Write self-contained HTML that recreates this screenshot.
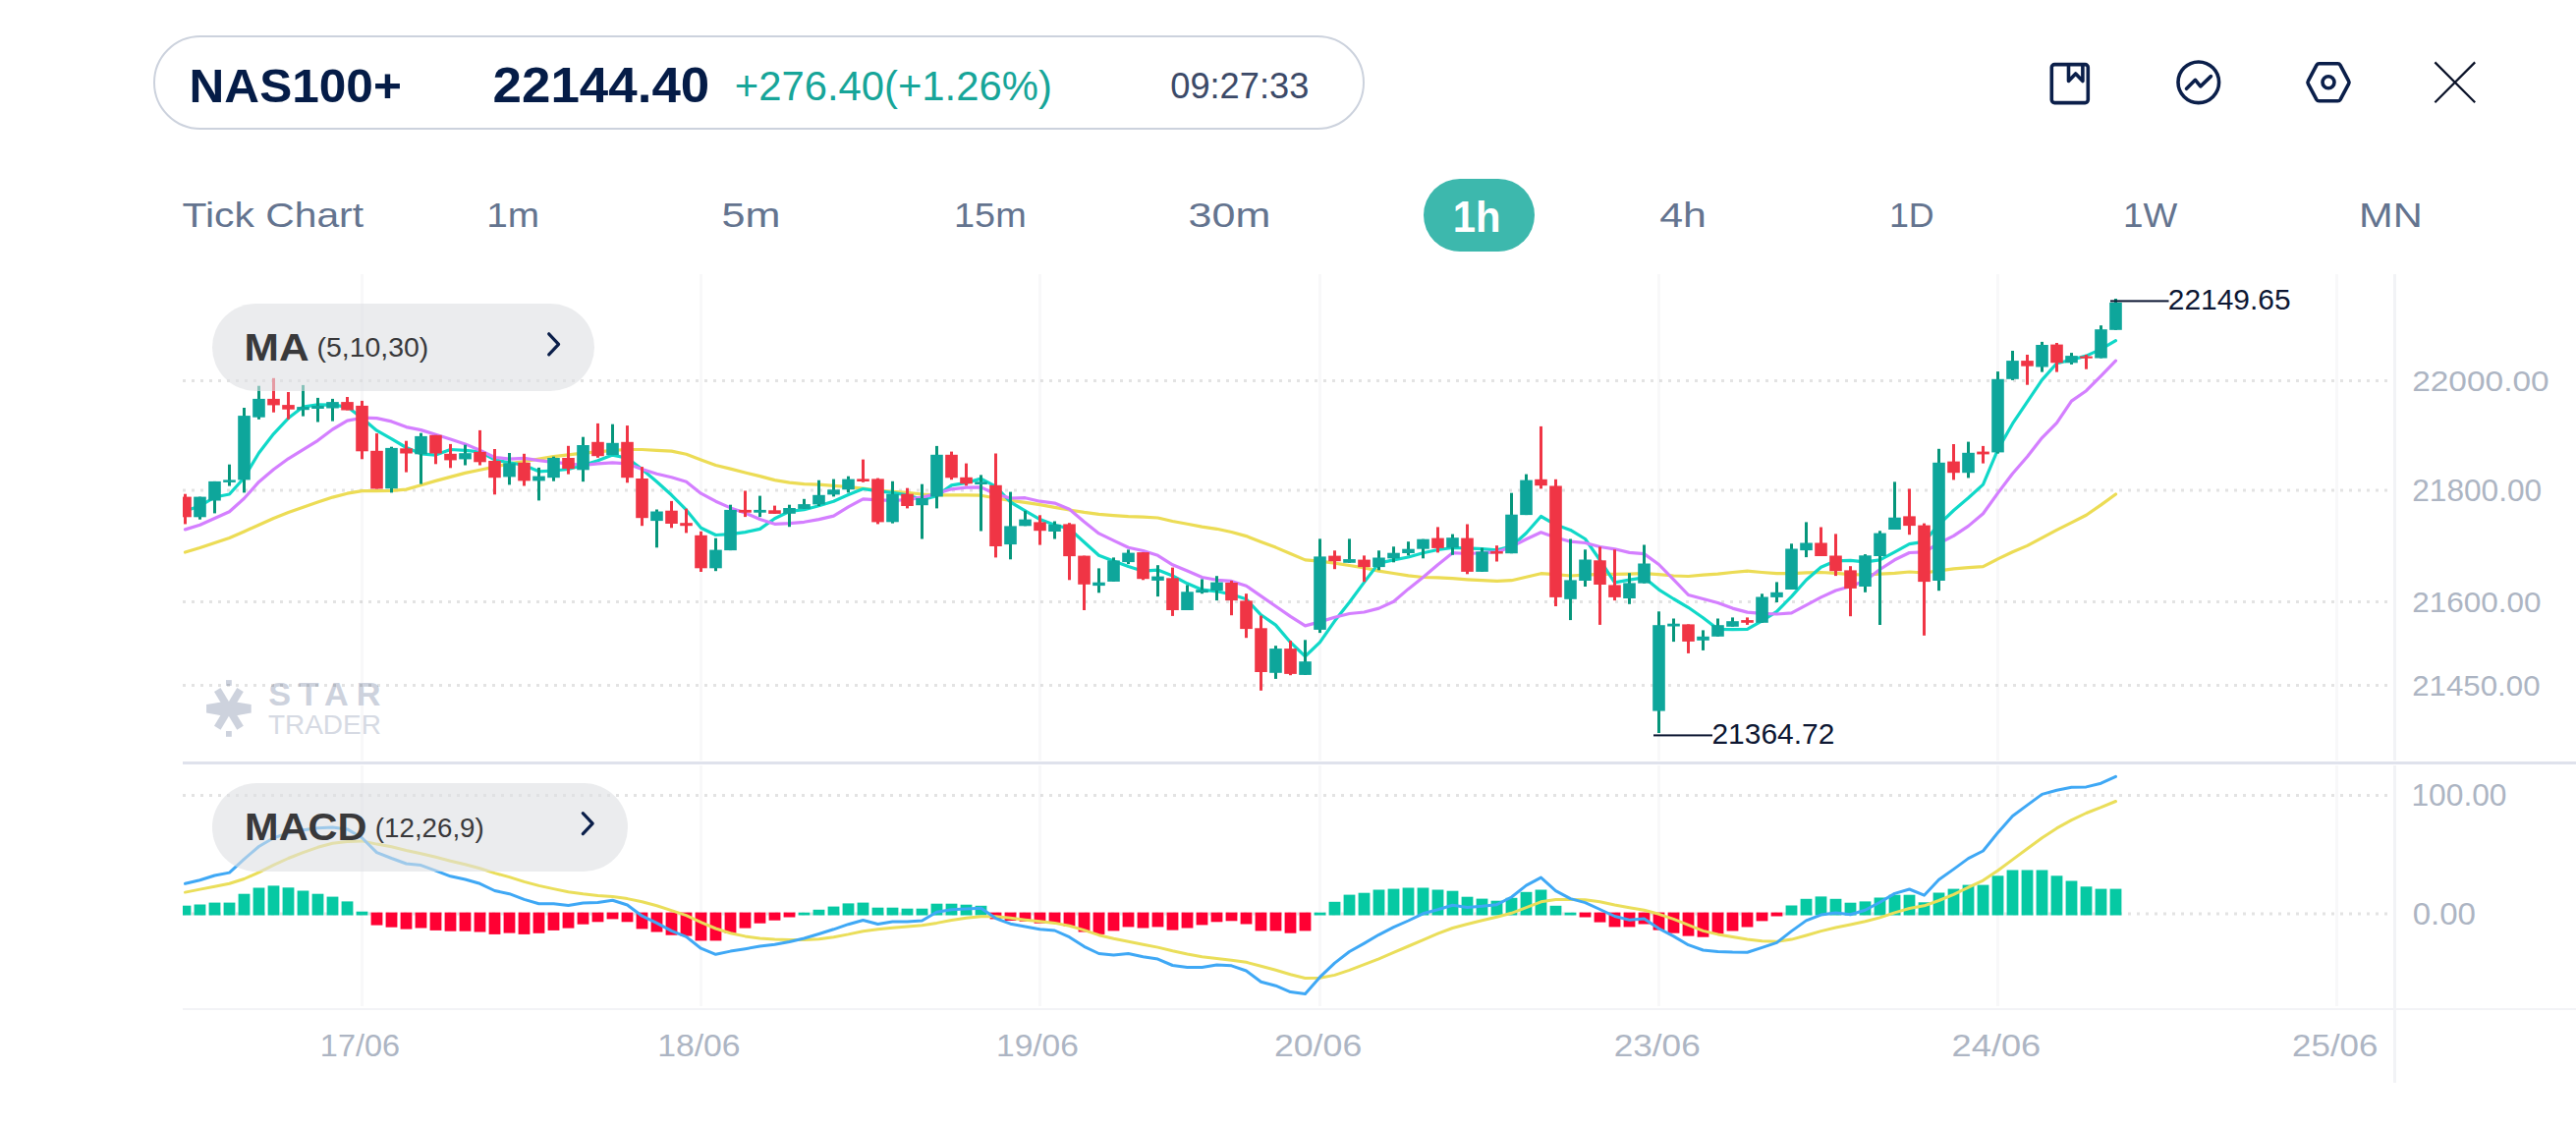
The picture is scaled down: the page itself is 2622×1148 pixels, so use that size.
<!DOCTYPE html>
<html><head><meta charset="utf-8"><title>NAS100+</title>
<style>
html,body{margin:0;padding:0;background:#fff}
body{width:2622px;height:1148px;position:relative;overflow:hidden;font-family:"Liberation Sans", sans-serif;}
.abs{position:absolute;white-space:nowrap;line-height:1}
.hdr{left:156px;top:36px;width:1229px;height:92px;border:2px solid #ccd2dd;border-radius:48px;box-sizing:content-box}
.pill{background:rgba(222,223,227,.6);border-radius:45px;z-index:4}
</style></head><body>
<div class="abs hdr"></div>
<svg class="abs" style="left:2060px;top:50px" width="480" height="70" viewBox="2060 50 480 70" fill="none" stroke="#0b1f4a" stroke-width="3.6" stroke-linecap="round" stroke-linejoin="round">
<rect x="2088.3" y="65.6" width="37" height="39" rx="3"/>
<path d="M2105.5 66.5v16l7.2-7.5 7.2 7.5v-16"/>
<circle cx="2237.8" cy="83.8" r="20.8"/>
<path d="M2225.5 90.3l9-9 5.3 6.6 10.6-10.3"/>
<path d="M2360.5 64.8h19a3 3 0 0 1 2.6 1.5l8.5 16a3 3 0 0 1 0 3l-8.5 16a3 3 0 0 1 -2.6 1.5h-19a3 3 0 0 1 -2.6 -1.5l-8.5 -16a3 3 0 0 1 0 -3l8.5 -16a3 3 0 0 1 2.6 -1.5z"/>
<circle cx="2370" cy="83.8" r="6"/>
<path d="M2478.4 63.4l40.8 40.8M2519.2 63.4l-40.8 40.8" stroke-width="2.2" stroke="#0a1228" stroke-linecap="butt"/>
</svg>
<div class="abs" style="left:1449px;top:182px;width:113px;height:74px;border-radius:37px;background:#3db8ad"></div>
<svg width="2622" height="1148" viewBox="0 0 2622 1148" style="position:absolute;left:0;top:0" font-family='"Liberation Sans", sans-serif'>
<defs><clipPath id="cp"><rect x="186.0" y="270" width="2251.0" height="770"/></clipPath></defs>
<rect x="367.0" y="279" width="3" height="495" fill="#f8f8f9"/>
<rect x="367.0" y="779" width="3" height="245" fill="#f8f8f9"/>
<rect x="712.0" y="279" width="3" height="495" fill="#f8f8f9"/>
<rect x="712.0" y="779" width="3" height="245" fill="#f8f8f9"/>
<rect x="1057.0" y="279" width="3" height="495" fill="#f8f8f9"/>
<rect x="1057.0" y="779" width="3" height="245" fill="#f8f8f9"/>
<rect x="1342.0" y="279" width="3" height="495" fill="#f8f8f9"/>
<rect x="1342.0" y="779" width="3" height="245" fill="#f8f8f9"/>
<rect x="1687.0" y="279" width="3" height="495" fill="#f8f8f9"/>
<rect x="1687.0" y="779" width="3" height="245" fill="#f8f8f9"/>
<rect x="2032.0" y="279" width="3" height="495" fill="#f8f8f9"/>
<rect x="2032.0" y="779" width="3" height="245" fill="#f8f8f9"/>
<rect x="2377.0" y="279" width="3" height="495" fill="#f8f8f9"/>
<rect x="2377.0" y="779" width="3" height="245" fill="#f8f8f9"/>
<rect x="2436" y="279" width="3" height="495" fill="#f2f3f6"/>
<rect x="2436" y="779" width="3" height="323" fill="#f2f3f6"/>
<g fill="#cdd2dd">
<polygon points="210.1,717.0 223.9,714.6999999999999 241.9,714.6999999999999 255.70000000000002,717.0 255.70000000000002,725.5999999999999 241.9,727.9 223.9,727.9 210.1,725.5999999999999"/>
<rect x="229.1" y="698.6999999999999" width="7.6" height="45.2" transform="rotate(31 232.9 721.3)"/>
<rect x="229.1" y="698.6999999999999" width="7.6" height="45.2" transform="rotate(-31 232.9 721.3)"/>
<rect x="230.0" y="692.1" width="5.8" height="5.8"/><rect x="230.0" y="744" width="5.8" height="5.8"/>
</g>
<text transform="translate(273.14 718.10) scale(1.0600 1)" font-size="32.29" font-weight="700" fill="#cdd2dd"  style="letter-spacing:7.43px">STAR</text>
<text transform="translate(272.94 747.10) scale(1.0108 1)" font-size="27.68" font-weight="400" fill="#d6dae3" >TRADER</text>
<line x1="186" y1="387.4" x2="2432" y2="387.4" stroke="#000" stroke-opacity=".108" stroke-width="3" stroke-dasharray="3 6"/>
<line x1="186" y1="499.1" x2="2432" y2="499.1" stroke="#000" stroke-opacity=".108" stroke-width="3" stroke-dasharray="3 6"/>
<line x1="186" y1="612.6" x2="2432" y2="612.6" stroke="#000" stroke-opacity=".108" stroke-width="3" stroke-dasharray="3 6"/>
<line x1="186" y1="697.5" x2="2432" y2="697.5" stroke="#000" stroke-opacity=".108" stroke-width="3" stroke-dasharray="3 6"/>
<line x1="186" y1="809.5" x2="2432" y2="809.5" stroke="#000" stroke-opacity=".108" stroke-width="3" stroke-dasharray="3 6"/>
<line x1="186" y1="930.1" x2="2432" y2="930.1" stroke="#000" stroke-opacity=".108" stroke-width="3" stroke-dasharray="3 6"/>
<rect x="186" y="775" width="2436" height="3" fill="#dfe2ec"/>
<rect x="186" y="1026" width="2436" height="2" fill="#f2f3f6"/>
<g clip-path="url(#cp)">
<polyline points="188.5,562.0 203.5,557.5 218.5,552.5 233.5,547.5 248.5,541.0 263.5,534.2 278.5,527.5 293.5,521.6 308.5,516.2 323.5,511.1 338.5,506.1 353.5,502.2 368.5,499.7 383.5,499.7 398.5,499.3 413.5,498.1 428.5,493.7 443.5,489.4 458.5,485.4 473.5,481.4 488.5,478.3 503.5,475.1 518.5,471.9 533.5,469.5 548.5,467.1 563.5,464.7 578.5,462.8 593.5,461.2 608.5,459.9 623.5,458.3 638.5,457.5 653.5,457.5 668.5,458.3 683.5,459.1 698.5,462.3 713.5,467.9 728.5,473.5 743.5,477.1 758.5,481.0 773.5,484.6 788.5,488.6 803.5,491.2 818.5,492.6 833.5,493.1 848.5,494.3 863.5,495.5 878.5,497.1 893.5,499.1 908.5,500.3 923.5,501.4 938.5,503.0 953.5,503.8 968.5,503.8 983.5,503.8 998.5,504.2 1013.5,507.0 1028.5,509.4 1043.5,511.3 1058.5,513.7 1073.5,516.3 1088.5,519.0 1103.5,521.4 1118.5,523.3 1133.5,524.6 1148.5,525.7 1163.5,526.2 1178.5,527.0 1193.5,530.5 1208.5,533.3 1223.5,536.1 1238.5,538.3 1253.5,541.5 1268.5,545.6 1283.5,551.5 1298.5,557.1 1313.5,563.5 1328.5,569.9 1343.5,571.2 1358.5,573.1 1373.5,575.5 1388.5,577.9 1403.5,581.1 1418.5,583.5 1433.5,585.9 1448.5,587.5 1463.5,587.8 1478.5,588.7 1493.5,589.8 1508.5,590.6 1523.5,591.4 1538.5,590.7 1553.5,587.2 1568.5,583.7 1583.5,584.7 1598.5,586.0 1613.5,585.2 1628.5,584.4 1643.5,584.4 1658.5,584.1 1673.5,583.6 1688.5,584.7 1703.5,586.0 1718.5,586.5 1733.5,585.2 1748.5,584.1 1763.5,582.5 1778.5,581.2 1793.5,582.5 1808.5,583.6 1823.5,583.6 1838.5,582.8 1853.5,582.5 1868.5,583.3 1883.5,584.6 1898.5,585.0 1913.5,584.2 1928.5,583.4 1943.5,582.0 1958.5,583.0 1973.5,580.9 1988.5,578.8 2003.5,577.7 2018.5,576.6 2033.5,568.9 2048.5,561.8 2063.5,555.4 2078.5,547.4 2093.5,539.4 2108.5,531.9 2123.5,524.3 2138.5,513.9 2153.5,503.0" fill="none" stroke="#ecdc55" stroke-width="3.2" stroke-linejoin="round" stroke-linecap="round"/>
<polyline points="188.5,519.9 203.5,515.0 218.5,506.0 233.5,503.0 248.5,486.2 263.5,461.0 278.5,441.6 293.5,425.6 308.5,414.1 323.5,411.8 338.5,412.1 353.5,414.1 368.5,425.6 383.5,438.2 398.5,446.6 413.5,455.5 428.5,461.8 443.5,463.1 458.5,457.5 473.5,458.3 488.5,459.9 503.5,467.9 518.5,470.8 533.5,473.5 548.5,479.8 563.5,479.0 578.5,477.5 593.5,473.5 608.5,468.7 623.5,463.1 638.5,466.3 653.5,477.5 668.5,490.2 683.5,503.8 698.5,518.9 713.5,537.3 728.5,544.5 743.5,543.7 758.5,541.6 773.5,538.4 788.5,527.7 803.5,520.5 818.5,518.7 833.5,514.7 848.5,510.2 863.5,503.5 878.5,497.5 893.5,499.8 908.5,501.4 923.5,503.8 938.5,508.6 953.5,504.6 968.5,493.9 983.5,491.4 998.5,487.1 1013.5,495.1 1028.5,511.0 1043.5,519.8 1058.5,528.6 1073.5,534.2 1088.5,538.1 1103.5,551.7 1118.5,565.3 1133.5,570.9 1148.5,576.5 1163.5,581.2 1178.5,580.1 1193.5,586.0 1208.5,593.8 1223.5,600.2 1238.5,601.8 1253.5,605.0 1268.5,609.8 1283.5,625.8 1298.5,636.1 1313.5,653.7 1328.5,668.0 1343.5,653.7 1358.5,632.1 1373.5,613.0 1388.5,592.6 1403.5,573.1 1418.5,569.9 1433.5,567.0 1448.5,562.7 1463.5,559.5 1478.5,557.5 1493.5,557.9 1508.5,558.7 1523.5,559.8 1538.5,556.0 1553.5,542.5 1568.5,525.5 1583.5,534.1 1598.5,539.4 1613.5,548.5 1628.5,570.0 1643.5,592.8 1658.5,590.2 1673.5,587.8 1688.5,600.1 1703.5,609.5 1718.5,618.3 1733.5,628.7 1748.5,640.3 1763.5,640.6 1778.5,640.3 1793.5,631.9 1808.5,622.3 1823.5,607.1 1838.5,590.2 1853.5,577.2 1868.5,570.8 1883.5,570.4 1898.5,571.8 1913.5,569.8 1928.5,561.9 1943.5,553.6 1958.5,551.4 1973.5,533.8 1988.5,519.5 2003.5,506.7 2018.5,493.1 2033.5,457.6 2048.5,431.2 2063.5,408.9 2078.5,386.6 2093.5,369.8 2108.5,366.3 2123.5,362.1 2138.5,355.4 2153.5,346.7" fill="none" stroke="#10d8c8" stroke-width="3.2" stroke-linejoin="round" stroke-linecap="round"/>
<polyline points="188.5,538.9 203.5,534.2 218.5,527.5 233.5,520.7 248.5,507.3 263.5,490.4 278.5,477.8 293.5,466.8 308.5,457.6 323.5,448.3 338.5,437.0 353.5,428.1 368.5,425.2 383.5,425.6 398.5,428.9 413.5,434.6 428.5,437.6 443.5,442.3 458.5,447.1 473.5,451.9 488.5,458.3 503.5,465.5 518.5,467.1 533.5,466.3 548.5,468.7 563.5,470.3 578.5,471.9 593.5,473.5 608.5,471.9 623.5,470.8 638.5,471.9 653.5,477.5 668.5,482.2 683.5,485.8 698.5,490.2 713.5,502.2 728.5,510.2 743.5,516.9 758.5,522.1 773.5,528.5 788.5,533.3 803.5,532.6 818.5,531.3 833.5,528.6 848.5,525.1 863.5,515.8 878.5,507.8 893.5,508.9 908.5,509.4 923.5,508.6 938.5,506.2 953.5,502.2 968.5,497.8 983.5,496.2 998.5,495.9 1013.5,503.0 1028.5,507.0 1043.5,506.7 1058.5,510.2 1073.5,512.1 1088.5,518.2 1103.5,531.0 1118.5,542.9 1133.5,550.1 1148.5,557.3 1163.5,560.5 1178.5,565.3 1193.5,574.8 1208.5,581.1 1223.5,587.5 1238.5,590.3 1253.5,591.4 1268.5,596.2 1283.5,606.6 1298.5,617.0 1313.5,627.4 1328.5,636.9 1343.5,632.9 1358.5,628.2 1373.5,624.5 1388.5,623.0 1403.5,619.1 1418.5,612.2 1433.5,599.4 1448.5,587.5 1463.5,574.7 1478.5,562.7 1493.5,563.5 1508.5,562.7 1523.5,561.9 1538.5,556.4 1553.5,548.8 1568.5,541.8 1583.5,547.0 1598.5,551.2 1613.5,552.5 1628.5,556.5 1643.5,558.8 1658.5,562.4 1673.5,563.6 1688.5,574.5 1703.5,589.8 1718.5,605.5 1733.5,609.5 1748.5,613.5 1763.5,619.1 1778.5,623.1 1793.5,624.4 1808.5,625.0 1823.5,623.9 1838.5,615.9 1853.5,607.9 1868.5,601.0 1883.5,596.8 1898.5,591.0 1913.5,579.5 1928.5,569.8 1943.5,562.5 1958.5,561.8 1973.5,553.0 1988.5,545.3 2003.5,535.4 2018.5,522.7 2033.5,501.9 2048.5,482.0 2063.5,464.8 2078.5,445.6 2093.5,430.4 2108.5,408.1 2123.5,397.7 2138.5,382.6 2153.5,367.1" fill="none" stroke="#d47fff" stroke-width="3.2" stroke-linejoin="round" stroke-linecap="round"/>
<rect x="187.0" y="502.7" width="3.0" height="30.7" fill="#f03545"/>
<rect x="182.2" y="505.6" width="12.6" height="20.7" fill="#f03545"/>
<rect x="202.0" y="505.6" width="3.0" height="23.1" fill="#06967b"/>
<rect x="197.2" y="505.6" width="12.6" height="20.7" fill="#0ea69b"/>
<rect x="217.0" y="489.9" width="3.0" height="32.5" fill="#06967b"/>
<rect x="212.2" y="489.9" width="12.6" height="19.6" fill="#0ea69b"/>
<rect x="232.0" y="472.7" width="3.0" height="21.9" fill="#06967b"/>
<rect x="227.2" y="488.4" width="12.6" height="2.5" fill="#0ea69b"/>
<rect x="247.0" y="415.0" width="3.0" height="86.4" fill="#06967b"/>
<rect x="242.2" y="423.1" width="12.6" height="65.3" fill="#0ea69b"/>
<rect x="262.0" y="392.7" width="3.0" height="34.1" fill="#06967b"/>
<rect x="257.2" y="405.9" width="12.6" height="18.8" fill="#0ea69b"/>
<rect x="277.0" y="384.8" width="3.0" height="34.9" fill="#f03545"/>
<rect x="272.2" y="405.9" width="12.6" height="6.5" fill="#f03545"/>
<rect x="292.0" y="399.0" width="3.0" height="27.8" fill="#f03545"/>
<rect x="287.2" y="412.1" width="12.6" height="4.6" fill="#f03545"/>
<rect x="307.0" y="391.9" width="3.0" height="31.7" fill="#06967b"/>
<rect x="302.2" y="414.1" width="12.6" height="3.1" fill="#0ea69b"/>
<rect x="322.0" y="404.9" width="3.0" height="24.6" fill="#06967b"/>
<rect x="317.2" y="412.9" width="12.6" height="3.1" fill="#0ea69b"/>
<rect x="337.0" y="405.9" width="3.0" height="22.7" fill="#06967b"/>
<rect x="332.2" y="409.1" width="12.6" height="6.4" fill="#0ea69b"/>
<rect x="352.0" y="404.0" width="3.0" height="13.5" fill="#f03545"/>
<rect x="347.2" y="409.1" width="12.6" height="8.4" fill="#f03545"/>
<rect x="367.0" y="407.9" width="3.0" height="59.4" fill="#f03545"/>
<rect x="362.2" y="412.9" width="12.6" height="46.4" fill="#f03545"/>
<rect x="382.0" y="441.1" width="3.0" height="56.4" fill="#f03545"/>
<rect x="377.2" y="458.8" width="12.6" height="38.7" fill="#f03545"/>
<rect x="397.0" y="454.7" width="3.0" height="46.7" fill="#06967b"/>
<rect x="392.2" y="455.9" width="12.6" height="41.3" fill="#0ea69b"/>
<rect x="412.0" y="448.7" width="3.0" height="31.9" fill="#f03545"/>
<rect x="407.2" y="456.3" width="12.6" height="5.2" fill="#f03545"/>
<rect x="427.0" y="440.7" width="3.0" height="51.9" fill="#06967b"/>
<rect x="422.2" y="443.9" width="12.6" height="18.4" fill="#0ea69b"/>
<rect x="442.0" y="442.8" width="3.0" height="29.5" fill="#f03545"/>
<rect x="437.2" y="442.8" width="12.6" height="18.7" fill="#f03545"/>
<rect x="457.0" y="451.9" width="3.0" height="24.4" fill="#f03545"/>
<rect x="452.2" y="461.8" width="12.6" height="6.6" fill="#f03545"/>
<rect x="472.0" y="452.7" width="3.0" height="20.8" fill="#06967b"/>
<rect x="467.2" y="461.2" width="12.6" height="6.2" fill="#0ea69b"/>
<rect x="487.0" y="437.9" width="3.0" height="35.6" fill="#f03545"/>
<rect x="482.2" y="459.9" width="12.6" height="10.4" fill="#f03545"/>
<rect x="502.0" y="457.0" width="3.0" height="46.3" fill="#f03545"/>
<rect x="497.2" y="469.0" width="12.6" height="17.2" fill="#f03545"/>
<rect x="517.0" y="461.0" width="3.0" height="32.4" fill="#06967b"/>
<rect x="512.2" y="471.4" width="12.6" height="14.0" fill="#0ea69b"/>
<rect x="532.0" y="461.8" width="3.0" height="32.7" fill="#f03545"/>
<rect x="527.2" y="470.8" width="12.6" height="18.6" fill="#f03545"/>
<rect x="547.0" y="475.9" width="3.0" height="33.5" fill="#06967b"/>
<rect x="542.2" y="484.6" width="12.6" height="4.8" fill="#0ea69b"/>
<rect x="562.0" y="464.7" width="3.0" height="25.0" fill="#06967b"/>
<rect x="557.2" y="466.0" width="12.6" height="20.2" fill="#0ea69b"/>
<rect x="577.0" y="453.8" width="3.0" height="28.8" fill="#f03545"/>
<rect x="572.2" y="466.0" width="12.6" height="11.1" fill="#f03545"/>
<rect x="592.0" y="444.7" width="3.0" height="45.5" fill="#06967b"/>
<rect x="587.2" y="453.0" width="12.6" height="25.3" fill="#0ea69b"/>
<rect x="607.0" y="430.9" width="3.0" height="34.9" fill="#f03545"/>
<rect x="602.2" y="449.8" width="12.6" height="14.4" fill="#f03545"/>
<rect x="622.0" y="431.7" width="3.0" height="31.4" fill="#06967b"/>
<rect x="617.2" y="450.8" width="12.6" height="12.3" fill="#0ea69b"/>
<rect x="637.0" y="433.1" width="3.0" height="58.2" fill="#f03545"/>
<rect x="632.2" y="449.8" width="12.6" height="36.4" fill="#f03545"/>
<rect x="652.0" y="475.1" width="3.0" height="60.1" fill="#f03545"/>
<rect x="647.2" y="487.0" width="12.6" height="40.2" fill="#f03545"/>
<rect x="667.0" y="518.5" width="3.0" height="38.8" fill="#06967b"/>
<rect x="662.2" y="520.5" width="12.6" height="9.6" fill="#0ea69b"/>
<rect x="682.0" y="509.9" width="3.0" height="27.4" fill="#f03545"/>
<rect x="677.2" y="519.7" width="12.6" height="13.3" fill="#f03545"/>
<rect x="697.0" y="517.7" width="3.0" height="24.7" fill="#f03545"/>
<rect x="692.2" y="532.2" width="12.6" height="3.0" fill="#f03545"/>
<rect x="712.0" y="540.8" width="3.0" height="41.2" fill="#f03545"/>
<rect x="707.2" y="544.8" width="12.6" height="33.5" fill="#f03545"/>
<rect x="727.0" y="547.7" width="3.0" height="33.5" fill="#06967b"/>
<rect x="722.2" y="559.6" width="12.6" height="18.7" fill="#0ea69b"/>
<rect x="742.0" y="513.7" width="3.0" height="46.4" fill="#06967b"/>
<rect x="737.2" y="518.9" width="12.6" height="41.2" fill="#0ea69b"/>
<rect x="757.0" y="499.5" width="3.0" height="26.6" fill="#f03545"/>
<rect x="752.2" y="518.9" width="12.6" height="2.8" fill="#f03545"/>
<rect x="772.0" y="504.6" width="3.0" height="21.5" fill="#06967b"/>
<rect x="767.2" y="518.9" width="12.6" height="2.8" fill="#0ea69b"/>
<rect x="787.0" y="514.6" width="3.0" height="8.3" fill="#f03545"/>
<rect x="782.2" y="519.3" width="12.6" height="3.6" fill="#f03545"/>
<rect x="802.0" y="513.7" width="3.0" height="22.5" fill="#06967b"/>
<rect x="797.2" y="517.0" width="12.6" height="5.8" fill="#0ea69b"/>
<rect x="817.0" y="507.8" width="3.0" height="10.1" fill="#06967b"/>
<rect x="812.2" y="513.1" width="12.6" height="4.8" fill="#0ea69b"/>
<rect x="832.0" y="488.7" width="3.0" height="26.3" fill="#06967b"/>
<rect x="827.2" y="503.8" width="12.6" height="9.6" fill="#0ea69b"/>
<rect x="847.0" y="487.6" width="3.0" height="17.8" fill="#06967b"/>
<rect x="842.2" y="498.3" width="12.6" height="5.1" fill="#0ea69b"/>
<rect x="862.0" y="484.7" width="3.0" height="16.7" fill="#06967b"/>
<rect x="857.2" y="487.6" width="12.6" height="10.7" fill="#0ea69b"/>
<rect x="877.0" y="467.6" width="3.0" height="23.2" fill="#f03545"/>
<rect x="872.2" y="487.4" width="12.6" height="2.6" fill="#f03545"/>
<rect x="892.0" y="486.6" width="3.0" height="46.8" fill="#f03545"/>
<rect x="887.2" y="487.4" width="12.6" height="44.0" fill="#f03545"/>
<rect x="907.0" y="489.8" width="3.0" height="42.8" fill="#06967b"/>
<rect x="902.2" y="502.7" width="12.6" height="28.6" fill="#0ea69b"/>
<rect x="922.0" y="496.7" width="3.0" height="20.7" fill="#f03545"/>
<rect x="917.2" y="502.7" width="12.6" height="12.3" fill="#f03545"/>
<rect x="937.0" y="492.7" width="3.0" height="55.8" fill="#06967b"/>
<rect x="932.2" y="507.0" width="12.6" height="7.2" fill="#0ea69b"/>
<rect x="952.0" y="453.9" width="3.0" height="63.5" fill="#06967b"/>
<rect x="947.2" y="462.8" width="12.6" height="42.6" fill="#0ea69b"/>
<rect x="967.0" y="459.6" width="3.0" height="28.6" fill="#f03545"/>
<rect x="962.2" y="462.8" width="12.6" height="23.5" fill="#f03545"/>
<rect x="982.0" y="471.6" width="3.0" height="22.7" fill="#f03545"/>
<rect x="977.2" y="485.8" width="12.6" height="6.5" fill="#f03545"/>
<rect x="997.0" y="483.4" width="3.0" height="57.1" fill="#06967b"/>
<rect x="992.2" y="490.3" width="12.6" height="2.7" fill="#0ea69b"/>
<rect x="1012.0" y="461.5" width="3.0" height="105.9" fill="#f03545"/>
<rect x="1007.2" y="493.8" width="12.6" height="62.2" fill="#f03545"/>
<rect x="1027.0" y="500.6" width="3.0" height="68.7" fill="#06967b"/>
<rect x="1022.2" y="535.4" width="12.6" height="18.7" fill="#0ea69b"/>
<rect x="1042.0" y="519.8" width="3.0" height="15.5" fill="#06967b"/>
<rect x="1037.2" y="528.6" width="12.6" height="6.7" fill="#0ea69b"/>
<rect x="1057.0" y="524.3" width="3.0" height="30.3" fill="#f03545"/>
<rect x="1052.2" y="531.4" width="12.6" height="8.8" fill="#f03545"/>
<rect x="1072.0" y="530.5" width="3.0" height="18.0" fill="#06967b"/>
<rect x="1067.2" y="533.8" width="12.6" height="7.2" fill="#0ea69b"/>
<rect x="1087.0" y="532.2" width="3.0" height="58.1" fill="#f03545"/>
<rect x="1082.2" y="533.4" width="12.6" height="32.7" fill="#f03545"/>
<rect x="1102.0" y="565.6" width="3.0" height="55.4" fill="#f03545"/>
<rect x="1097.2" y="565.6" width="12.6" height="29.2" fill="#f03545"/>
<rect x="1117.0" y="578.4" width="3.0" height="24.9" fill="#06967b"/>
<rect x="1112.2" y="592.7" width="12.6" height="3.4" fill="#0ea69b"/>
<rect x="1132.0" y="567.4" width="3.0" height="24.5" fill="#06967b"/>
<rect x="1127.2" y="570.4" width="12.6" height="21.5" fill="#0ea69b"/>
<rect x="1147.0" y="559.4" width="3.0" height="14.7" fill="#06967b"/>
<rect x="1142.2" y="562.6" width="12.6" height="9.5" fill="#0ea69b"/>
<rect x="1162.0" y="562.1" width="3.0" height="28.2" fill="#f03545"/>
<rect x="1157.2" y="562.1" width="12.6" height="27.1" fill="#f03545"/>
<rect x="1177.0" y="575.2" width="3.0" height="31.9" fill="#06967b"/>
<rect x="1172.2" y="586.6" width="12.6" height="4.3" fill="#0ea69b"/>
<rect x="1192.0" y="577.6" width="3.0" height="49.3" fill="#f03545"/>
<rect x="1187.2" y="588.3" width="12.6" height="32.7" fill="#f03545"/>
<rect x="1207.0" y="595.4" width="3.0" height="25.6" fill="#06967b"/>
<rect x="1202.2" y="602.3" width="12.6" height="18.7" fill="#0ea69b"/>
<rect x="1222.0" y="589.4" width="3.0" height="14.8" fill="#06967b"/>
<rect x="1217.2" y="600.2" width="12.6" height="2.9" fill="#0ea69b"/>
<rect x="1237.0" y="586.2" width="3.0" height="24.9" fill="#06967b"/>
<rect x="1232.2" y="592.6" width="12.6" height="8.4" fill="#0ea69b"/>
<rect x="1252.0" y="591.1" width="3.0" height="35.1" fill="#f03545"/>
<rect x="1247.2" y="593.0" width="12.6" height="18.1" fill="#f03545"/>
<rect x="1267.0" y="604.2" width="3.0" height="45.0" fill="#f03545"/>
<rect x="1262.2" y="611.4" width="12.6" height="28.7" fill="#f03545"/>
<rect x="1282.0" y="626.6" width="3.0" height="76.2" fill="#f03545"/>
<rect x="1277.2" y="639.3" width="12.6" height="44.7" fill="#f03545"/>
<rect x="1297.0" y="657.2" width="3.0" height="33.7" fill="#06967b"/>
<rect x="1292.2" y="660.1" width="12.6" height="24.7" fill="#0ea69b"/>
<rect x="1312.0" y="652.1" width="3.0" height="35.1" fill="#f03545"/>
<rect x="1307.2" y="660.1" width="12.6" height="25.8" fill="#f03545"/>
<rect x="1327.0" y="651.3" width="3.0" height="35.6" fill="#06967b"/>
<rect x="1322.2" y="673.2" width="12.6" height="13.7" fill="#0ea69b"/>
<rect x="1342.0" y="548.4" width="3.0" height="95.7" fill="#06967b"/>
<rect x="1337.2" y="566.4" width="12.6" height="74.5" fill="#0ea69b"/>
<rect x="1357.0" y="560.3" width="3.0" height="18.9" fill="#f03545"/>
<rect x="1352.2" y="565.6" width="12.6" height="5.6" fill="#f03545"/>
<rect x="1372.0" y="548.4" width="3.0" height="24.4" fill="#06967b"/>
<rect x="1367.2" y="569.1" width="12.6" height="3.7" fill="#0ea69b"/>
<rect x="1387.0" y="565.4" width="3.0" height="26.8" fill="#f03545"/>
<rect x="1382.2" y="569.6" width="12.6" height="7.5" fill="#f03545"/>
<rect x="1402.0" y="560.3" width="3.0" height="20.0" fill="#06967b"/>
<rect x="1397.2" y="567.5" width="12.6" height="9.6" fill="#0ea69b"/>
<rect x="1417.0" y="556.3" width="3.0" height="16.0" fill="#06967b"/>
<rect x="1412.2" y="562.7" width="12.6" height="5.6" fill="#0ea69b"/>
<rect x="1432.0" y="551.2" width="3.0" height="14.2" fill="#06967b"/>
<rect x="1427.2" y="558.7" width="12.6" height="4.3" fill="#0ea69b"/>
<rect x="1447.0" y="548.7" width="3.0" height="19.6" fill="#06967b"/>
<rect x="1442.2" y="548.7" width="12.6" height="10.0" fill="#0ea69b"/>
<rect x="1462.0" y="536.4" width="3.0" height="26.0" fill="#f03545"/>
<rect x="1457.2" y="547.6" width="12.6" height="10.3" fill="#f03545"/>
<rect x="1477.0" y="543.6" width="3.0" height="21.2" fill="#06967b"/>
<rect x="1472.2" y="547.2" width="12.6" height="10.3" fill="#0ea69b"/>
<rect x="1492.0" y="533.5" width="3.0" height="50.8" fill="#f03545"/>
<rect x="1487.2" y="547.6" width="12.6" height="34.3" fill="#f03545"/>
<rect x="1507.0" y="557.6" width="3.0" height="24.3" fill="#06967b"/>
<rect x="1502.2" y="561.4" width="12.6" height="20.5" fill="#0ea69b"/>
<rect x="1522.0" y="555.2" width="3.0" height="16.3" fill="#f03545"/>
<rect x="1517.2" y="561.1" width="12.6" height="2.4" fill="#f03545"/>
<rect x="1537.0" y="501.7" width="3.0" height="61.5" fill="#06967b"/>
<rect x="1532.2" y="523.7" width="12.6" height="39.5" fill="#0ea69b"/>
<rect x="1552.0" y="482.6" width="3.0" height="41.5" fill="#06967b"/>
<rect x="1547.2" y="488.6" width="12.6" height="35.5" fill="#0ea69b"/>
<rect x="1567.0" y="433.9" width="3.0" height="63.5" fill="#f03545"/>
<rect x="1562.2" y="487.8" width="12.6" height="6.4" fill="#f03545"/>
<rect x="1582.0" y="487.8" width="3.0" height="129.2" fill="#f03545"/>
<rect x="1577.2" y="494.5" width="12.6" height="113.4" fill="#f03545"/>
<rect x="1597.0" y="548.5" width="3.0" height="82.6" fill="#06967b"/>
<rect x="1592.2" y="590.4" width="12.6" height="19.4" fill="#0ea69b"/>
<rect x="1612.0" y="559.3" width="3.0" height="37.7" fill="#06967b"/>
<rect x="1607.2" y="569.5" width="12.6" height="21.5" fill="#0ea69b"/>
<rect x="1627.0" y="556.5" width="3.0" height="79.4" fill="#f03545"/>
<rect x="1622.2" y="570.3" width="12.6" height="24.7" fill="#f03545"/>
<rect x="1642.0" y="559.3" width="3.0" height="51.8" fill="#f03545"/>
<rect x="1637.2" y="595.4" width="12.6" height="12.5" fill="#f03545"/>
<rect x="1657.0" y="583.2" width="3.0" height="31.6" fill="#06967b"/>
<rect x="1652.2" y="593.4" width="12.6" height="15.6" fill="#0ea69b"/>
<rect x="1672.0" y="554.5" width="3.0" height="39.1" fill="#06967b"/>
<rect x="1667.2" y="573.5" width="12.6" height="20.1" fill="#0ea69b"/>
<rect x="1687.0" y="622.3" width="3.0" height="123.7" fill="#06967b"/>
<rect x="1682.2" y="636.2" width="12.6" height="87.4" fill="#0ea69b"/>
<rect x="1702.0" y="629.5" width="3.0" height="23.6" fill="#06967b"/>
<rect x="1697.2" y="634.7" width="12.6" height="2.8" fill="#0ea69b"/>
<rect x="1717.0" y="635.4" width="3.0" height="29.5" fill="#f03545"/>
<rect x="1712.2" y="635.4" width="12.6" height="17.5" fill="#f03545"/>
<rect x="1732.0" y="641.4" width="3.0" height="20.5" fill="#06967b"/>
<rect x="1727.2" y="647.8" width="12.6" height="4.0" fill="#0ea69b"/>
<rect x="1747.0" y="629.5" width="3.0" height="18.3" fill="#06967b"/>
<rect x="1742.2" y="636.2" width="12.6" height="11.6" fill="#0ea69b"/>
<rect x="1762.0" y="628.4" width="3.0" height="9.4" fill="#06967b"/>
<rect x="1757.2" y="632.2" width="12.6" height="5.6" fill="#0ea69b"/>
<rect x="1777.0" y="628.4" width="3.0" height="7.5" fill="#f03545"/>
<rect x="1772.2" y="631.1" width="12.6" height="2.7" fill="#f03545"/>
<rect x="1792.0" y="604.3" width="3.0" height="29.5" fill="#06967b"/>
<rect x="1787.2" y="607.5" width="12.6" height="26.3" fill="#0ea69b"/>
<rect x="1807.0" y="592.4" width="3.0" height="20.6" fill="#06967b"/>
<rect x="1802.2" y="602.8" width="12.6" height="5.1" fill="#0ea69b"/>
<rect x="1822.0" y="553.3" width="3.0" height="46.7" fill="#06967b"/>
<rect x="1817.2" y="558.5" width="12.6" height="41.5" fill="#0ea69b"/>
<rect x="1837.0" y="531.4" width="3.0" height="35.7" fill="#06967b"/>
<rect x="1832.2" y="552.5" width="12.6" height="7.6" fill="#0ea69b"/>
<rect x="1852.0" y="536.5" width="3.0" height="29.5" fill="#f03545"/>
<rect x="1847.2" y="552.5" width="12.6" height="13.5" fill="#f03545"/>
<rect x="1867.0" y="543.4" width="3.0" height="42.7" fill="#f03545"/>
<rect x="1862.2" y="565.5" width="12.6" height="15.7" fill="#f03545"/>
<rect x="1882.0" y="576.2" width="3.0" height="51.0" fill="#f03545"/>
<rect x="1877.2" y="580.4" width="12.6" height="18.5" fill="#f03545"/>
<rect x="1897.0" y="564.1" width="3.0" height="38.7" fill="#06967b"/>
<rect x="1892.2" y="565.3" width="12.6" height="31.7" fill="#0ea69b"/>
<rect x="1912.0" y="540.3" width="3.0" height="95.7" fill="#06967b"/>
<rect x="1907.2" y="542.6" width="12.6" height="23.4" fill="#0ea69b"/>
<rect x="1927.0" y="490.4" width="3.0" height="48.6" fill="#06967b"/>
<rect x="1922.2" y="526.7" width="12.6" height="12.3" fill="#0ea69b"/>
<rect x="1942.0" y="497.5" width="3.0" height="46.7" fill="#f03545"/>
<rect x="1937.2" y="525.4" width="12.6" height="9.7" fill="#f03545"/>
<rect x="1957.0" y="532.6" width="3.0" height="114.2" fill="#f03545"/>
<rect x="1952.2" y="534.6" width="12.6" height="57.5" fill="#f03545"/>
<rect x="1972.0" y="456.8" width="3.0" height="144.4" fill="#06967b"/>
<rect x="1967.2" y="470.8" width="12.6" height="120.2" fill="#0ea69b"/>
<rect x="1987.0" y="452.0" width="3.0" height="36.4" fill="#f03545"/>
<rect x="1982.2" y="469.6" width="12.6" height="11.6" fill="#f03545"/>
<rect x="2002.0" y="449.6" width="3.0" height="36.8" fill="#06967b"/>
<rect x="1997.2" y="460.8" width="12.6" height="20.4" fill="#0ea69b"/>
<rect x="2017.0" y="453.9" width="3.0" height="17.7" fill="#f03545"/>
<rect x="2012.2" y="459.6" width="12.6" height="2.8" fill="#f03545"/>
<rect x="2032.0" y="378.1" width="3.0" height="83.5" fill="#06967b"/>
<rect x="2027.2" y="385.8" width="12.6" height="74.6" fill="#0ea69b"/>
<rect x="2047.0" y="357.0" width="3.0" height="29.9" fill="#06967b"/>
<rect x="2042.2" y="367.1" width="12.6" height="18.7" fill="#0ea69b"/>
<rect x="2062.0" y="361.0" width="3.0" height="30.7" fill="#f03545"/>
<rect x="2057.2" y="367.1" width="12.6" height="5.6" fill="#f03545"/>
<rect x="2077.0" y="347.9" width="3.0" height="30.7" fill="#06967b"/>
<rect x="2072.2" y="351.0" width="12.6" height="22.5" fill="#0ea69b"/>
<rect x="2092.0" y="349.0" width="3.0" height="29.6" fill="#f03545"/>
<rect x="2087.2" y="350.6" width="12.6" height="18.7" fill="#f03545"/>
<rect x="2107.0" y="359.1" width="3.0" height="11.8" fill="#06967b"/>
<rect x="2102.2" y="362.1" width="12.6" height="7.2" fill="#0ea69b"/>
<rect x="2122.0" y="361.0" width="3.0" height="14.7" fill="#f03545"/>
<rect x="2117.2" y="362.6" width="12.6" height="2.1" fill="#f03545"/>
<rect x="2137.0" y="331.2" width="3.0" height="33.3" fill="#06967b"/>
<rect x="2132.2" y="335.2" width="12.6" height="29.3" fill="#0ea69b"/>
<rect x="2152.0" y="304.0" width="3.0" height="31.8" fill="#06967b"/>
<rect x="2147.2" y="307.9" width="12.6" height="27.9" fill="#0ea69b"/>
<rect x="182.6" y="921.7" width="11.8" height="9.8" fill="#06c9a3"/>
<rect x="197.6" y="920.5" width="11.8" height="11.0" fill="#06c9a3"/>
<rect x="212.6" y="918.6" width="11.8" height="12.9" fill="#06c9a3"/>
<rect x="227.6" y="918.6" width="11.8" height="12.9" fill="#06c9a3"/>
<rect x="242.6" y="909.7" width="11.8" height="21.8" fill="#06c9a3"/>
<rect x="257.6" y="903.5" width="11.8" height="28.0" fill="#06c9a3"/>
<rect x="272.6" y="901.4" width="11.8" height="30.1" fill="#06c9a3"/>
<rect x="287.6" y="903.3" width="11.8" height="28.2" fill="#06c9a3"/>
<rect x="302.6" y="906.5" width="11.8" height="25.0" fill="#06c9a3"/>
<rect x="317.6" y="909.7" width="11.8" height="21.8" fill="#06c9a3"/>
<rect x="332.6" y="912.6" width="11.8" height="18.9" fill="#06c9a3"/>
<rect x="347.6" y="917.4" width="11.8" height="14.1" fill="#06c9a3"/>
<rect x="362.6" y="927.7" width="11.8" height="3.8" fill="#06c9a3"/>
<rect x="377.6" y="928.6" width="11.8" height="13.0" fill="#ff0033"/>
<rect x="392.6" y="928.6" width="11.8" height="15.1" fill="#ff0033"/>
<rect x="407.6" y="928.6" width="11.8" height="17.0" fill="#ff0033"/>
<rect x="422.6" y="928.6" width="11.8" height="15.9" fill="#ff0033"/>
<rect x="437.6" y="928.6" width="11.8" height="18.3" fill="#ff0033"/>
<rect x="452.6" y="928.6" width="11.8" height="19.1" fill="#ff0033"/>
<rect x="467.6" y="928.6" width="11.8" height="19.1" fill="#ff0033"/>
<rect x="482.6" y="928.6" width="11.8" height="19.9" fill="#ff0033"/>
<rect x="497.6" y="928.6" width="11.8" height="22.3" fill="#ff0033"/>
<rect x="512.6" y="928.6" width="11.8" height="21.0" fill="#ff0033"/>
<rect x="527.6" y="928.6" width="11.8" height="22.3" fill="#ff0033"/>
<rect x="542.6" y="928.6" width="11.8" height="21.2" fill="#ff0033"/>
<rect x="557.6" y="928.6" width="11.8" height="18.3" fill="#ff0033"/>
<rect x="572.6" y="928.6" width="11.8" height="16.0" fill="#ff0033"/>
<rect x="587.6" y="928.6" width="11.8" height="12.1" fill="#ff0033"/>
<rect x="602.6" y="928.6" width="11.8" height="9.7" fill="#ff0033"/>
<rect x="617.6" y="928.6" width="11.8" height="6.8" fill="#ff0033"/>
<rect x="632.6" y="928.6" width="11.8" height="9.7" fill="#ff0033"/>
<rect x="647.6" y="928.6" width="11.8" height="16.8" fill="#ff0033"/>
<rect x="662.6" y="928.6" width="11.8" height="19.9" fill="#ff0033"/>
<rect x="677.6" y="928.6" width="11.8" height="23.1" fill="#ff0033"/>
<rect x="692.6" y="928.6" width="11.8" height="24.0" fill="#ff0033"/>
<rect x="707.6" y="928.6" width="11.8" height="28.8" fill="#ff0033"/>
<rect x="722.6" y="928.6" width="11.8" height="28.8" fill="#ff0033"/>
<rect x="737.6" y="928.6" width="11.8" height="21.1" fill="#ff0033"/>
<rect x="752.6" y="928.6" width="11.8" height="16.0" fill="#ff0033"/>
<rect x="767.6" y="928.6" width="11.8" height="11.1" fill="#ff0033"/>
<rect x="782.6" y="928.6" width="11.8" height="8.1" fill="#ff0033"/>
<rect x="797.6" y="928.6" width="11.8" height="4.9" fill="#ff0033"/>
<rect x="812.6" y="928.7" width="11.8" height="2.8" fill="#06c9a3"/>
<rect x="827.6" y="925.8" width="11.8" height="5.7" fill="#06c9a3"/>
<rect x="842.6" y="922.6" width="11.8" height="8.9" fill="#06c9a3"/>
<rect x="857.6" y="919.4" width="11.8" height="12.1" fill="#06c9a3"/>
<rect x="872.6" y="918.6" width="11.8" height="12.9" fill="#06c9a3"/>
<rect x="887.6" y="923.7" width="11.8" height="7.8" fill="#06c9a3"/>
<rect x="902.6" y="923.7" width="11.8" height="7.8" fill="#06c9a3"/>
<rect x="917.6" y="924.7" width="11.8" height="6.8" fill="#06c9a3"/>
<rect x="932.6" y="924.7" width="11.8" height="6.8" fill="#06c9a3"/>
<rect x="947.6" y="919.7" width="11.8" height="11.8" fill="#06c9a3"/>
<rect x="962.6" y="919.7" width="11.8" height="11.8" fill="#06c9a3"/>
<rect x="977.6" y="920.7" width="11.8" height="10.8" fill="#06c9a3"/>
<rect x="992.6" y="921.8" width="11.8" height="9.7" fill="#06c9a3"/>
<rect x="1007.6" y="928.6" width="11.8" height="6.8" fill="#ff0033"/>
<rect x="1022.6" y="928.6" width="11.8" height="8.4" fill="#ff0033"/>
<rect x="1037.6" y="928.6" width="11.8" height="9.2" fill="#ff0033"/>
<rect x="1052.6" y="928.6" width="11.8" height="11.1" fill="#ff0033"/>
<rect x="1067.6" y="928.6" width="11.8" height="10.8" fill="#ff0033"/>
<rect x="1082.6" y="928.6" width="11.8" height="14.0" fill="#ff0033"/>
<rect x="1097.6" y="928.6" width="11.8" height="19.9" fill="#ff0033"/>
<rect x="1112.6" y="928.6" width="11.8" height="22.3" fill="#ff0033"/>
<rect x="1127.6" y="928.6" width="11.8" height="18.8" fill="#ff0033"/>
<rect x="1142.6" y="928.6" width="11.8" height="14.8" fill="#ff0033"/>
<rect x="1157.6" y="928.6" width="11.8" height="15.9" fill="#ff0033"/>
<rect x="1172.6" y="928.6" width="11.8" height="14.8" fill="#ff0033"/>
<rect x="1187.6" y="928.6" width="11.8" height="18.0" fill="#ff0033"/>
<rect x="1202.6" y="928.6" width="11.8" height="15.9" fill="#ff0033"/>
<rect x="1217.6" y="928.6" width="11.8" height="12.8" fill="#ff0033"/>
<rect x="1232.6" y="928.6" width="11.8" height="9.7" fill="#ff0033"/>
<rect x="1247.6" y="928.6" width="11.8" height="8.7" fill="#ff0033"/>
<rect x="1262.6" y="928.6" width="11.8" height="11.9" fill="#ff0033"/>
<rect x="1277.6" y="928.6" width="11.8" height="18.8" fill="#ff0033"/>
<rect x="1292.6" y="928.6" width="11.8" height="18.8" fill="#ff0033"/>
<rect x="1307.6" y="928.6" width="11.8" height="21.1" fill="#ff0033"/>
<rect x="1322.6" y="928.6" width="11.8" height="18.8" fill="#ff0033"/>
<rect x="1337.6" y="928.7" width="11.8" height="2.8" fill="#06c9a3"/>
<rect x="1352.6" y="917.8" width="11.8" height="13.7" fill="#06c9a3"/>
<rect x="1367.6" y="910.6" width="11.8" height="20.9" fill="#06c9a3"/>
<rect x="1382.6" y="908.7" width="11.8" height="22.8" fill="#06c9a3"/>
<rect x="1397.6" y="905.5" width="11.8" height="26.0" fill="#06c9a3"/>
<rect x="1412.6" y="904.6" width="11.8" height="26.9" fill="#06c9a3"/>
<rect x="1427.6" y="903.5" width="11.8" height="28.0" fill="#06c9a3"/>
<rect x="1442.6" y="903.5" width="11.8" height="28.0" fill="#06c9a3"/>
<rect x="1457.6" y="905.5" width="11.8" height="26.0" fill="#06c9a3"/>
<rect x="1472.6" y="906.7" width="11.8" height="24.8" fill="#06c9a3"/>
<rect x="1487.6" y="912.7" width="11.8" height="18.8" fill="#06c9a3"/>
<rect x="1502.6" y="914.6" width="11.8" height="16.9" fill="#06c9a3"/>
<rect x="1517.6" y="916.7" width="11.8" height="14.8" fill="#06c9a3"/>
<rect x="1532.6" y="913.8" width="11.8" height="17.7" fill="#06c9a3"/>
<rect x="1547.6" y="907.8" width="11.8" height="23.7" fill="#06c9a3"/>
<rect x="1562.6" y="905.5" width="11.8" height="26.0" fill="#06c9a3"/>
<rect x="1577.6" y="921.8" width="11.8" height="9.7" fill="#06c9a3"/>
<rect x="1592.6" y="928.7" width="11.8" height="2.8" fill="#06c9a3"/>
<rect x="1607.6" y="928.6" width="11.8" height="4.9" fill="#ff0033"/>
<rect x="1622.6" y="928.6" width="11.8" height="10.0" fill="#ff0033"/>
<rect x="1637.6" y="928.6" width="11.8" height="14.8" fill="#ff0033"/>
<rect x="1652.6" y="928.6" width="11.8" height="14.8" fill="#ff0033"/>
<rect x="1667.6" y="928.6" width="11.8" height="11.9" fill="#ff0033"/>
<rect x="1682.6" y="928.6" width="11.8" height="18.0" fill="#ff0033"/>
<rect x="1697.6" y="928.6" width="11.8" height="21.1" fill="#ff0033"/>
<rect x="1712.6" y="928.6" width="11.8" height="24.0" fill="#ff0033"/>
<rect x="1727.6" y="928.6" width="11.8" height="25.1" fill="#ff0033"/>
<rect x="1742.6" y="928.6" width="11.8" height="21.9" fill="#ff0033"/>
<rect x="1757.6" y="928.6" width="11.8" height="18.9" fill="#ff0033"/>
<rect x="1772.6" y="928.6" width="11.8" height="14.9" fill="#ff0033"/>
<rect x="1787.6" y="928.6" width="11.8" height="8.8" fill="#ff0033"/>
<rect x="1802.6" y="928.6" width="11.8" height="3.9" fill="#ff0033"/>
<rect x="1817.6" y="921.5" width="11.8" height="10.0" fill="#06c9a3"/>
<rect x="1832.6" y="914.8" width="11.8" height="16.7" fill="#06c9a3"/>
<rect x="1847.6" y="912.4" width="11.8" height="19.1" fill="#06c9a3"/>
<rect x="1862.6" y="914.8" width="11.8" height="16.7" fill="#06c9a3"/>
<rect x="1877.6" y="918.7" width="11.8" height="12.8" fill="#06c9a3"/>
<rect x="1892.6" y="917.4" width="11.8" height="14.1" fill="#06c9a3"/>
<rect x="1907.6" y="913.5" width="11.8" height="18.0" fill="#06c9a3"/>
<rect x="1922.6" y="910.7" width="11.8" height="20.8" fill="#06c9a3"/>
<rect x="1937.6" y="910.7" width="11.8" height="20.8" fill="#06c9a3"/>
<rect x="1952.6" y="918.3" width="11.8" height="13.2" fill="#06c9a3"/>
<rect x="1967.6" y="908.5" width="11.8" height="23.0" fill="#06c9a3"/>
<rect x="1982.6" y="904.6" width="11.8" height="26.9" fill="#06c9a3"/>
<rect x="1997.6" y="900.6" width="11.8" height="30.9" fill="#06c9a3"/>
<rect x="2012.6" y="900.6" width="11.8" height="30.9" fill="#06c9a3"/>
<rect x="2027.6" y="891.3" width="11.8" height="40.2" fill="#06c9a3"/>
<rect x="2042.6" y="885.5" width="11.8" height="46.0" fill="#06c9a3"/>
<rect x="2057.6" y="885.5" width="11.8" height="46.0" fill="#06c9a3"/>
<rect x="2072.6" y="885.5" width="11.8" height="46.0" fill="#06c9a3"/>
<rect x="2087.6" y="891.3" width="11.8" height="40.2" fill="#06c9a3"/>
<rect x="2102.6" y="896.5" width="11.8" height="35.0" fill="#06c9a3"/>
<rect x="2117.6" y="902.3" width="11.8" height="29.2" fill="#06c9a3"/>
<rect x="2132.6" y="904.6" width="11.8" height="26.9" fill="#06c9a3"/>
<rect x="2147.6" y="904.6" width="11.8" height="26.9" fill="#06c9a3"/>
<polyline points="188.5,908.1 203.5,905.1 218.5,902.2 233.5,899.3 248.5,894.5 263.5,887.8 278.5,880.3 293.5,873.5 308.5,867.6 323.5,862.3 338.5,858.3 353.5,856.4 368.5,855.9 383.5,859.1 398.5,861.8 413.5,865.5 428.5,868.7 443.5,872.3 458.5,876.2 473.5,879.8 488.5,883.8 503.5,888.6 518.5,892.6 533.5,897.4 548.5,901.4 563.5,904.6 578.5,907.8 593.5,909.8 608.5,911.4 623.5,912.6 638.5,914.6 653.5,917.8 668.5,921.8 683.5,926.6 698.5,931.7 713.5,938.6 728.5,945.0 743.5,949.7 758.5,952.9 773.5,955.0 788.5,956.1 803.5,956.6 818.5,956.6 833.5,955.7 848.5,953.7 863.5,950.9 878.5,947.7 893.5,945.8 908.5,944.2 923.5,942.9 938.5,941.8 953.5,939.4 968.5,936.5 983.5,934.2 998.5,932.7 1013.5,932.7 1028.5,934.3 1043.5,936.2 1058.5,937.8 1073.5,939.4 1088.5,942.2 1103.5,946.6 1118.5,951.7 1133.5,955.3 1148.5,958.2 1163.5,961.2 1178.5,964.1 1193.5,967.8 1208.5,971.0 1223.5,973.7 1238.5,975.6 1253.5,977.2 1268.5,979.3 1283.5,983.3 1298.5,987.3 1313.5,991.7 1328.5,995.5 1343.5,995.2 1358.5,992.4 1373.5,987.3 1388.5,981.7 1403.5,975.8 1418.5,969.4 1433.5,963.0 1448.5,956.6 1463.5,950.2 1478.5,944.5 1493.5,940.5 1508.5,936.7 1523.5,933.3 1538.5,929.3 1553.5,923.7 1568.5,917.8 1583.5,915.4 1598.5,915.4 1613.5,915.8 1628.5,917.8 1643.5,921.0 1658.5,923.7 1673.5,926.3 1688.5,930.3 1703.5,935.4 1718.5,941.4 1733.5,947.4 1748.5,950.9 1763.5,953.6 1778.5,956.0 1793.5,957.8 1808.5,958.2 1823.5,956.1 1838.5,952.0 1853.5,947.6 1868.5,944.0 1883.5,941.0 1898.5,937.8 1913.5,933.9 1928.5,928.9 1943.5,924.5 1958.5,921.8 1973.5,916.5 1988.5,910.3 2003.5,903.2 2018.5,896.1 2033.5,886.0 2048.5,874.9 2063.5,863.7 2078.5,852.7 2093.5,842.9 2108.5,834.6 2123.5,827.5 2138.5,821.7 2153.5,815.5" fill="none" stroke="#eade5a" stroke-width="3" stroke-linejoin="round" stroke-linecap="round"/>
<polyline points="188.5,899.3 203.5,895.8 218.5,891.0 233.5,888.1 248.5,874.3 263.5,861.5 278.5,852.7 293.5,847.9 308.5,844.7 323.5,842.7 338.5,841.9 353.5,843.9 368.5,852.7 383.5,867.6 398.5,873.5 413.5,879.0 428.5,880.6 443.5,886.2 458.5,891.8 473.5,895.0 488.5,899.3 503.5,906.5 518.5,909.7 533.5,915.4 548.5,919.7 563.5,919.7 578.5,921.6 593.5,919.0 608.5,918.6 623.5,916.2 638.5,921.0 653.5,932.2 668.5,939.4 683.5,947.4 698.5,953.4 713.5,965.2 728.5,971.3 743.5,968.1 758.5,965.7 773.5,963.0 788.5,961.2 803.5,958.5 818.5,955.0 833.5,950.5 848.5,945.8 863.5,940.7 878.5,936.5 893.5,940.5 908.5,938.1 923.5,938.1 938.5,937.0 953.5,928.2 968.5,925.8 983.5,925.0 998.5,924.2 1013.5,934.6 1028.5,940.2 1043.5,942.9 1058.5,945.8 1073.5,947.0 1088.5,953.7 1103.5,963.3 1118.5,970.5 1133.5,972.1 1148.5,970.5 1163.5,973.7 1178.5,976.1 1193.5,982.5 1208.5,984.4 1223.5,984.4 1238.5,982.1 1253.5,982.8 1268.5,988.0 1283.5,999.2 1298.5,1003.2 1313.5,1009.6 1328.5,1011.5 1343.5,994.4 1358.5,980.1 1373.5,968.5 1388.5,960.1 1403.5,951.3 1418.5,943.7 1433.5,937.0 1448.5,929.8 1463.5,925.8 1478.5,921.3 1493.5,923.4 1508.5,922.3 1523.5,920.7 1538.5,913.0 1553.5,901.1 1568.5,893.1 1583.5,906.7 1598.5,914.6 1613.5,918.6 1628.5,925.5 1643.5,932.5 1658.5,936.2 1673.5,935.1 1688.5,945.0 1703.5,952.9 1718.5,961.7 1733.5,967.0 1748.5,968.6 1763.5,969.1 1778.5,969.2 1793.5,964.4 1808.5,959.4 1823.5,947.6 1838.5,936.9 1853.5,931.1 1868.5,928.9 1883.5,930.7 1898.5,926.3 1913.5,918.3 1928.5,909.4 1943.5,905.0 1958.5,911.2 1973.5,895.2 1988.5,884.6 2003.5,873.6 2018.5,866.0 2033.5,847.4 2048.5,830.5 2063.5,819.4 2078.5,808.4 2093.5,804.3 2108.5,801.3 2123.5,800.9 2138.5,797.2 2153.5,790.3" fill="none" stroke="#3fa8f5" stroke-width="3" stroke-linejoin="round" stroke-linecap="round"/>
</g>
<rect x="2148" y="305.4" width="59.5" height="2" fill="#0d1733"/>
<rect x="1683" y="747.4" width="60" height="2" fill="#0d1733"/>
<text transform="translate(2206.80 315.10) scale(1.0371 1)" font-size="28.86" font-weight="400" fill="#0d1733" >22149.65</text>
<text transform="translate(1742.40 757.30) scale(1.0384 1)" font-size="28.86" font-weight="400" fill="#0d1733" >21364.72</text>
<text transform="translate(2455.13 398.00) scale(1.0998 1)" font-size="30.43" font-weight="400" fill="#adb5c3" >22000.00</text>
<text transform="translate(2455.22 509.80) scale(1.0403 1)" font-size="30.43" font-weight="400" fill="#adb5c3" >21800.00</text>
<text transform="translate(2455.23 623.20) scale(1.0347 1)" font-size="30.43" font-weight="400" fill="#adb5c3" >21600.00</text>
<text transform="translate(2455.24 708.20) scale(1.0266 1)" font-size="30.43" font-weight="400" fill="#adb5c3" >21450.00</text>
<text transform="translate(2454.42 820.20) scale(1.0436 1)" font-size="30.43" font-weight="400" fill="#adb5c3" >100.00</text>
<text transform="translate(2455.64 940.70) scale(1.0866 1)" font-size="30.43" font-weight="400" fill="#adb5c3" >0.00</text>
<text transform="translate(325.87 1074.70) scale(1.0646 1)" font-size="30.47" font-weight="400" fill="#adb5c3" >17/06</text>
<text transform="translate(669.17 1074.70) scale(1.1073 1)" font-size="30.47" font-weight="400" fill="#adb5c3" >18/06</text>
<text transform="translate(1013.99 1074.70) scale(1.1004 1)" font-size="30.47" font-weight="400" fill="#adb5c3" >19/06</text>
<text transform="translate(1296.91 1074.70) scale(1.1720 1)" font-size="30.47" font-weight="400" fill="#adb5c3" >20/06</text>
<text transform="translate(1642.74 1074.70) scale(1.1543 1)" font-size="30.47" font-weight="400" fill="#adb5c3" >23/06</text>
<text transform="translate(1986.59 1074.70) scale(1.1897 1)" font-size="30.47" font-weight="400" fill="#adb5c3" >24/06</text>
<text transform="translate(2333.05 1074.70) scale(1.1461 1)" font-size="30.47" font-weight="400" fill="#adb5c3" >25/06</text>
</svg>
<div class="abs pill" style="left:216px;top:309px;width:389px;height:89px"></div>
<svg class="abs" style="left:550px;top:330px;z-index:5" width="30" height="40" viewBox="550 330 30 40" fill="none" stroke="#0b1f4a" stroke-width="3.2" stroke-linecap="round" stroke-linejoin="round"><path d="M558.7 339.8l9.9 10.5-9.9 10.5"/></svg>
<div class="abs pill" style="left:216px;top:797px;width:423px;height:90px"></div>
<svg class="abs" style="left:585px;top:818px;z-index:5" width="30" height="40" viewBox="585 818 30 40" fill="none" stroke="#0b1f4a" stroke-width="3.2" stroke-linecap="round" stroke-linejoin="round"><path d="M593.3 827.6l9.9 10.5-9.9 10.5"/></svg>
<svg width="2622" height="1148" viewBox="0 0 2622 1148" style="position:absolute;left:0;top:0;z-index:6" font-family='"Liberation Sans", sans-serif'>
<text transform="translate(192.58 104.00) scale(1.0225 1)" font-size="48.49" font-weight="700" fill="#051c47" >NAS100+</text>
<text transform="translate(501.51 103.90) scale(1.0774 1)" font-size="49.14" font-weight="700" fill="#051c47" >22144.40</text>
<text transform="translate(747.72 102.00) scale(0.9726 1)" font-size="43.00" font-weight="400" fill="#17a599" >+276.40(+1.26%)</text>
<text transform="translate(1191.23 100.00) scale(0.9872 1)" font-size="36.73" font-weight="400" fill="#3c4a68" >09:27:33</text>
<text transform="translate(185.48 230.90) scale(1.1440 1)" font-size="35.71" font-weight="400" fill="#64748f" >Tick Chart</text>
<text transform="translate(495.19 230.90) scale(1.0854 1)" font-size="35.71" font-weight="400" fill="#64748f" >1m</text>
<text transform="translate(734.47 230.90) scale(1.2083 1)" font-size="35.71" font-weight="400" fill="#64748f" >5m</text>
<text transform="translate(971.06 230.90) scale(1.0612 1)" font-size="35.71" font-weight="400" fill="#64748f" >15m</text>
<text transform="translate(1209.59 230.90) scale(1.2050 1)" font-size="35.71" font-weight="400" fill="#64748f" >30m</text>
<text transform="translate(1689.14 230.90) scale(1.2002 1)" font-size="35.71" font-weight="400" fill="#64748f" >4h</text>
<text transform="translate(1922.91 230.90) scale(1.0026 1)" font-size="35.71" font-weight="400" fill="#64748f" >1D</text>
<text transform="translate(2160.93 230.90) scale(1.0327 1)" font-size="35.71" font-weight="400" fill="#64748f" >1W</text>
<text transform="translate(2400.97 230.90) scale(1.1657 1)" font-size="35.71" font-weight="400" fill="#64748f" >MN</text>
<text transform="translate(1478.79 235.90) scale(0.9554 1)" font-size="43.82" font-weight="700" fill="#fff" >1h</text>
<text transform="translate(248.54 367.10) scale(1.0985 1)" font-size="38.70" font-weight="700" fill="#39393b" >MA</text>
<text transform="translate(322.49 363.00) scale(1.0416 1)" font-size="27.29" font-weight="400" fill="#39393b" >(5,10,30)</text>
<text transform="translate(249.10 854.80) scale(1.0759 1)" font-size="38.56" font-weight="700" fill="#39393b" >MACD</text>
<text transform="translate(381.84 851.60) scale(1.0108 1)" font-size="27.43" font-weight="400" fill="#39393b" >(12,26,9)</text>
</svg>
</body></html>
